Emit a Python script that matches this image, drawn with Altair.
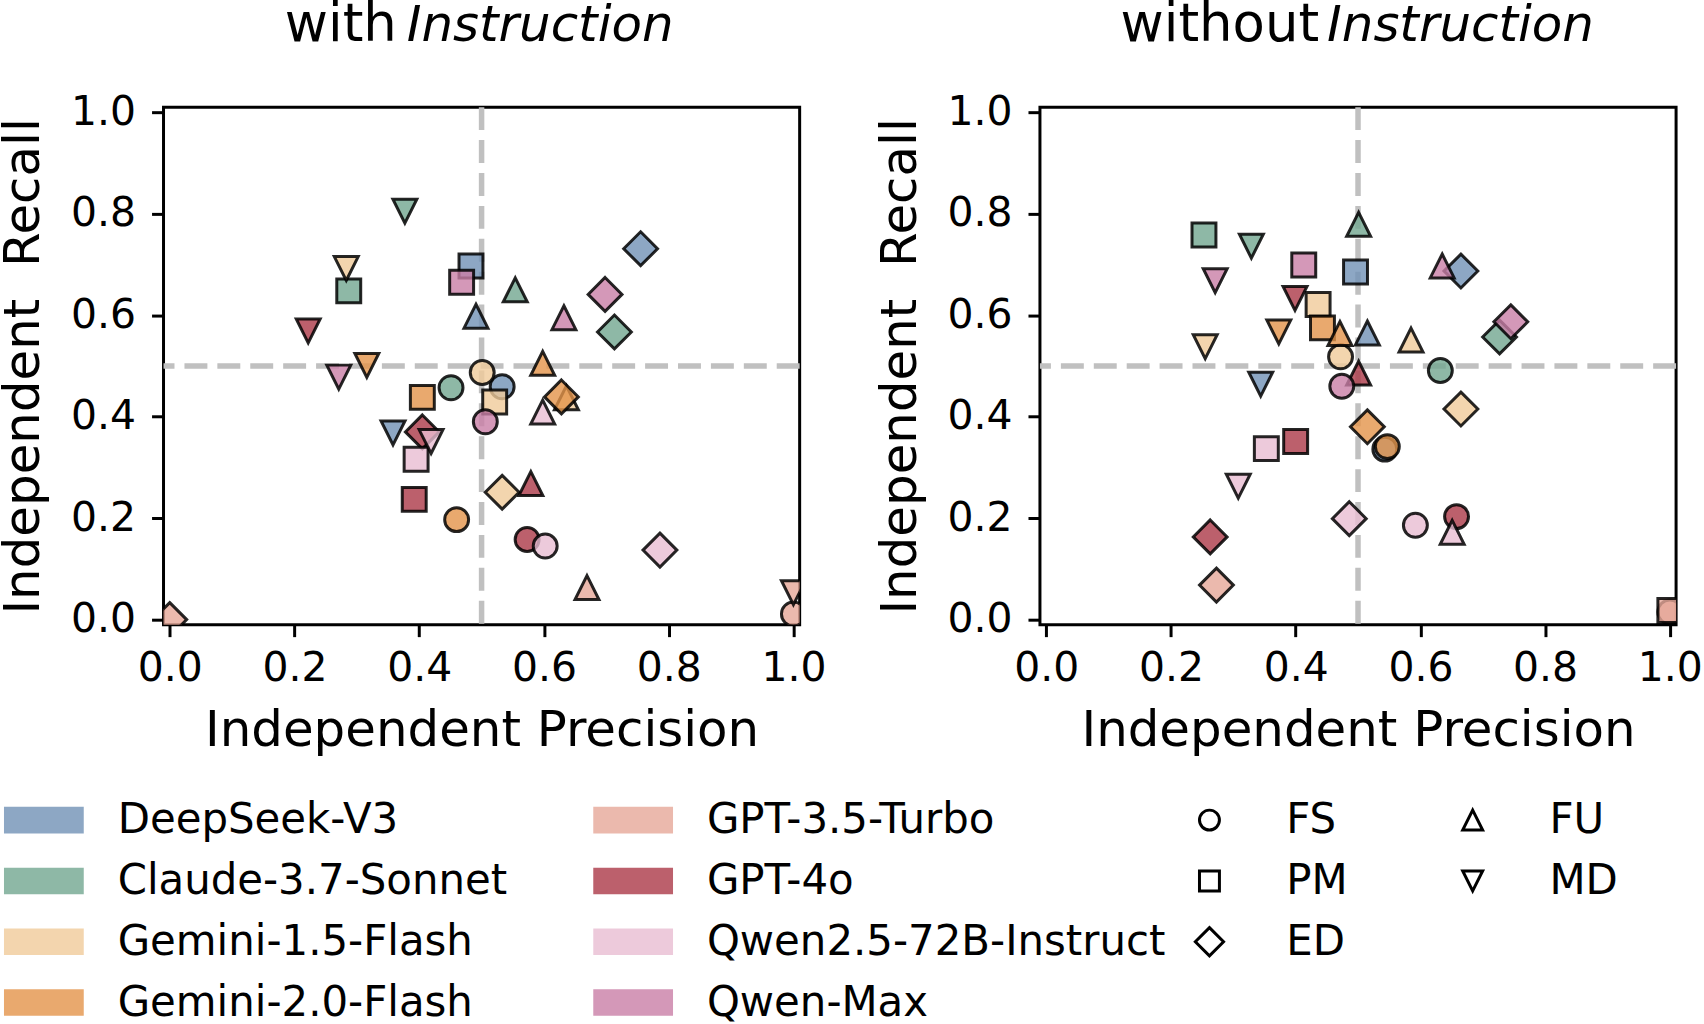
import altair as alt
import pandas as pd

# ---------------- data ----------------
MODELS = ["DeepSeek-V3", "Claude-3.7-Sonnet", "Gemini-1.5-Flash", "Gemini-2.0-Flash",
          "GPT-3.5-Turbo", "GPT-4o", "Qwen2.5-72B-Instruct", "Qwen-Max"]
COLORS = ["#7091B5", "#72A690", "#F0CA9A", "#E4944A",
          "#E6A898", "#AB3847", "#E9BDD2", "#C97EA6"]
METRICS = ["FS", "PM", "ED", "FU", "MD"]

# values per model in METRICS order (None = not drawn)
WITH_PREC = {
    "DeepSeek-V3":          [0.533, 0.483, 0.755, 0.491, 0.358],
    "Claude-3.7-Sonnet":    [0.451, 0.287, 0.713, 0.554, 0.377],
    "Gemini-1.5-Flash":     [0.501, 0.521, 0.533, 0.636, 0.283],
    "Gemini-2.0-Flash":     [0.460, 0.405, 0.628, 0.598, 0.316],
    "GPT-3.5-Turbo":        [1.000, None, 0.000, 0.669, 1.000],
    "GPT-4o":               [0.573, 0.392, 0.405, 0.579, 0.222],
    "Qwen2.5-72B-Instruct": [0.602, 0.395, 0.786, 0.598, 0.419],
    "Qwen-Max":             [0.506, 0.468, 0.698, 0.632, 0.271],
}
WITH_REC = {
    "DeepSeek-V3":          [0.459, 0.697, 0.731, 0.598, 0.368],
    "Claude-3.7-Sonnet":    [0.457, 0.648, 0.567, 0.650, 0.805],
    "Gemini-1.5-Flash":     [0.487, 0.429, 0.251, 0.437, 0.692],
    "Gemini-2.0-Flash":     [0.197, 0.438, 0.439, 0.505, 0.501],
    "GPT-3.5-Turbo":        [0.011, None, 0.000, 0.063, 0.053],
    "GPT-4o":               [0.158, 0.237, 0.370, 0.268, 0.569],
    "Qwen2.5-72B-Instruct": [0.145, 0.316, 0.137, 0.409, 0.351],
    "Qwen-Max":             [0.390, 0.665, 0.641, 0.595, 0.478],
}
WITHOUT_PREC = {
    "DeepSeek-V3":          [0.543, 0.496, 0.665, 0.515, 0.344],
    "Claude-3.7-Sonnet":    [0.632, 0.253, 0.727, 0.501, 0.329],
    "Gemini-1.5-Flash":     [0.472, 0.436, 0.665, 0.585, 0.255],
    "Gemini-2.0-Flash":     [0.547, 0.443, 0.515, 0.471, 0.373],
    "GPT-3.5-Turbo":        [1.000, 1.000, 0.273, None, None],
    "GPT-4o":               [0.658, 0.400, 0.263, 0.501, 0.399],
    "Qwen2.5-72B-Instruct": [0.592, 0.353, 0.486, 0.651, 0.308],
    "Qwen-Max":             [0.474, 0.413, 0.745, 0.635, 0.271],
}
WITHOUT_REC = {
    "DeepSeek-V3":          [0.336, 0.685, 0.687, 0.565, 0.464],
    "Claude-3.7-Sonnet":    [0.491, 0.758, 0.557, 0.779, 0.736],
    "Gemini-1.5-Flash":     [0.518, 0.621, 0.415, 0.551, 0.538],
    "Gemini-2.0-Flash":     [0.341, 0.575, 0.380, 0.564, 0.567],
    "GPT-3.5-Turbo":        [0.015, 0.018, 0.068, None, None],
    "GPT-4o":               [0.203, 0.351, 0.163, 0.486, 0.633],
    "Qwen2.5-72B-Instruct": [0.186, 0.337, 0.199, 0.172, 0.263],
    "Qwen-Max":             [0.460, 0.699, 0.587, 0.697, 0.668],
}
TICKS = [0.0, 0.2, 0.4, 0.6, 0.8, 1.0]
THRESHOLD = [0.5]

# ---------------- styling ----------------
FONT = "DejaVu Sans"
SHAPE_PATHS = {
    "FS": "M1,0A1,1,0,1,1,-1,0A1,1,0,1,1,1,0Z",
    "PM": "M-1,-1H1V1H-1Z",
    "ED": "M0,-1.414L1.414,0L0,1.414L-1.414,0Z",
    "FU": "M0,-1L1,1L-1,1Z",
    "MD": "M0,1L1,-1L-1,-1Z",
}

W, H = 638, 519


def frame(P, R):
    rows = []
    for m in MODELS:
        for k, met in enumerate(METRICS):
            p, r = P[m][k], R[m][k]
            if p is None or r is None:
                continue
            rows.append({"model": m, "metric": met, "precision": p, "recall": r})
    return pd.DataFrame(rows)


XS = alt.Scale(domain=[-0.01, 1.01], nice=False, zero=False)
YS = alt.Scale(domain=[-0.01, 1.01], nice=False, zero=False)

AX_X = alt.Axis(values=TICKS, format=".1f", title="Independent Precision", grid=False,
                domain=False, tickSize=12, tickWidth=3, tickColor="black",
                labelFontSize=41, labelFont=FONT, labelColor="black",
                titleFontSize=50, titleFont=FONT, titleColor="black",
                titleFontWeight="normal", labelFlush=False,
                labelPadding=12, titlePadding=17)
AX_Y = alt.Axis(values=TICKS, format=".1f", title="Independent\u00a0\u00a0Recall",
                grid=False, domain=False, tickSize=12, tickWidth=3, tickColor="black",
                labelFontSize=41, labelFont=FONT, labelColor="black",
                titleFontSize=50, titleFont=FONT, titleColor="black",
                titleFontWeight="normal", labelPadding=16, titlePadding=22)

COLOR_LEGEND = alt.Legend(
    title=None, orient="none", legendX=-141, legendY=694, columns=2, direction="vertical",
    symbolType="M-3,-1H3V1H-3Z", symbolSize=711, symbolStrokeWidth=0, symbolOpacity=0.8,
    labelFontSize=42, labelFont=FONT, labelColor="black", labelOffset=53,
    columnPadding=86, rowPadding=19, labelLimit=1000,
)
SHAPE_LEGEND = alt.Legend(
    title=None, orient="none", legendX=1028, legendY=694, columns=2, direction="vertical",
    symbolSize=400, symbolFillColor="transparent", symbolStrokeColor="black",
    symbolStrokeWidth=3, symbolOpacity=1,
    labelFontSize=42, labelFont=FONT, labelColor="black", labelOffset=56,
    columnPadding=104, rowPadding=19,
)


def panel(df, word, word_x, italic_x):
    pts = alt.Chart(df).mark_point(
        filled=True, size=576, fillOpacity=0.8, stroke="black", strokeOpacity=0.85,
        strokeWidth=3, clip=True,
    ).encode(
        x=alt.X("precision:Q", scale=XS, axis=AX_X),
        y=alt.Y("recall:Q", scale=YS, axis=AX_Y),
        color=alt.Color("model:N", scale=alt.Scale(domain=MODELS, range=COLORS),
                        legend=COLOR_LEGEND),
        shape=alt.Shape("metric:N", scale=alt.Scale(domain=METRICS,
                        range=[SHAPE_PATHS[s] for s in METRICS]), legend=SHAPE_LEGEND),
    )
    thr = pd.DataFrame({"v": THRESHOLD})
    vline = alt.Chart(thr).mark_rule(color="#c0c0c0", strokeWidth=5.5, strokeDash=[23, 10]).encode(
        x=alt.X("v:Q", scale=XS, axis=AX_X))
    hline = alt.Chart(thr).mark_rule(color="#c0c0c0", strokeWidth=5.5, strokeDash=[23, 10]).encode(
        y=alt.Y("v:Q", scale=YS, axis=AX_Y))
    t1 = alt.Chart(pd.DataFrame({"t": [word]})).mark_text(
        align="right", baseline="alphabetic", fontSize=53, font=FONT, color="black"
    ).encode(text="t:N", x=alt.value(word_x), y=alt.value(-66))
    t2 = alt.Chart(pd.DataFrame({"t": ["Instruction"]})).mark_text(
        align="left", baseline="alphabetic", fontSize=50, font=FONT, fontStyle="italic",
        color="black"
    ).encode(text="t:N", x=alt.value(italic_x), y=alt.value(-66))
    return alt.layer(vline, hline, pts, t1, t2).properties(width=W, height=H)


left = panel(frame(WITH_PREC, WITH_REC), "with", 234, 244)
right = panel(frame(WITHOUT_PREC, WITHOUT_REC), "without", 280, 288)

chart = (
    alt.hconcat(left, right, spacing=241, bounds="flush")
    .resolve_scale(color="shared", shape="shared")
    .properties(padding={"left": -3, "top": -4, "right": 0, "bottom": 0}, background="white")
    .configure(font=FONT)
    .configure_view(stroke="black", strokeWidth=3)
)

chart.save("out.html", embed_options={"renderer": "svg", "actions": False})
